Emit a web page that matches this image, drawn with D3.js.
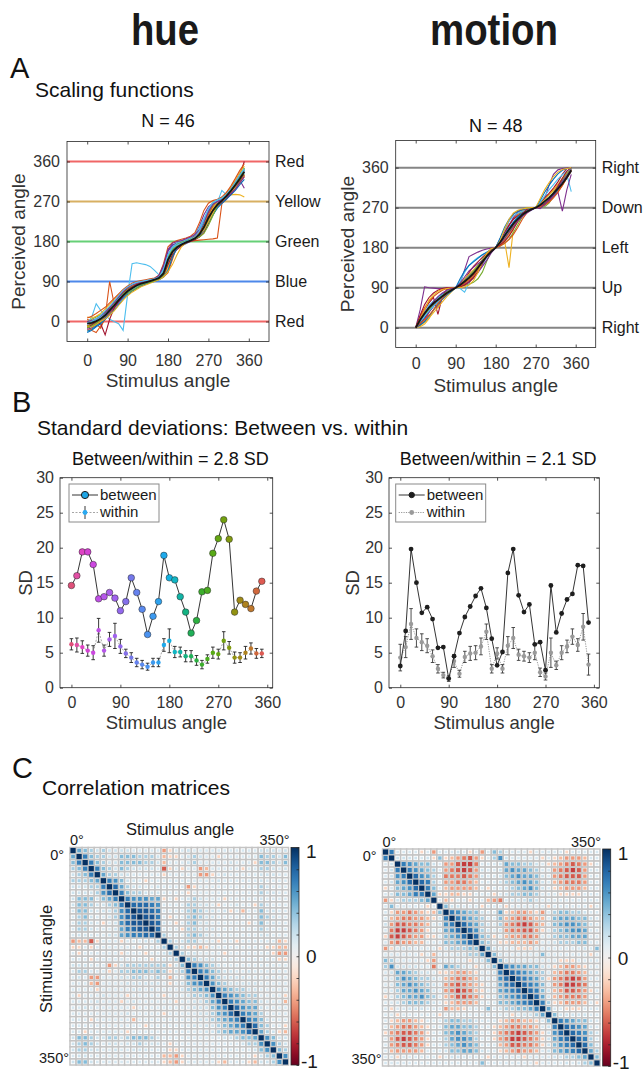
<!DOCTYPE html>
<html>
<head>
<meta charset="utf-8">
<title>hue / motion</title>
<script src="https://cdn.jsdelivr.net/npm/d3@7/dist/d3.min.js"></script>
<style>
  body { margin: 0; background: #fff; }
  svg { display: block; font-family: "Liberation Sans", Arial, Helvetica, sans-serif; }
  .ax text { font-size: 16px; fill: #333; font-family: "Liberation Sans", Arial, Helvetica, sans-serif; }
  .ax line { stroke: #262626; stroke-width: 0.8; }
</style>
</head>
<body>
<svg id="fig" width="644" height="1072"></svg>
<script>
// ---------- data ----------
var stimAngles = [0,10,20,30,40,50,60,70,80,90,100,110,120,130,140,150,160,170,
                  180,190,200,210,220,230,240,250,260,270,280,290,300,310,320,330,340,350];
var angleTicks = [0, 90, 180, 270, 360];
var sdTicks = [0, 5, 10, 15, 20, 25, 30];

var refAngles = [360, 270, 180, 90, 0];
var hueRefNames = ["Red", "Yellow", "Green", "Blue", "Red"];
var motionRefNames = ["Right", "Down", "Left", "Up", "Right"];

// A: scaling functions (perceived angle per stimulus angle)
var hueMean = [-5,-3,1,6,14,25,36,48,59,68,75,81,85,88,91,94,98,108,139,157,167,173,178,182,187,196,212,233,250,263,272,282,294,307,321,337];
var hueSubjects = [
  [-12,-8,-2,5,15,28,40,52,62,70,76,80,84,88,90,93,100,125,160,172,176,179,181,184,190,200,220,245,262,270,275,285,298,312,326,340],
  [5,0,-5,-15,10,90,40,45,60,75,78,82,86,88,92,96,100,105,130,150,165,172,177,180,182,183,184,185,186,188,265,275,288,300,312,328],
  [-20,-15,-8,0,10,20,32,45,58,68,75,80,84,87,90,93,96,102,120,150,165,172,178,182,186,192,205,225,250,268,278,282,285,286,285,280],
  [-15,-10,-5,5,18,30,42,55,65,72,78,83,87,90,92,95,100,112,150,168,175,180,183,186,192,205,225,245,258,266,272,280,292,305,318,300],
  [0,5,10,15,22,30,38,50,62,72,80,85,88,90,92,95,98,104,132,155,168,175,180,183,188,196,215,240,262,272,276,282,292,305,322,345],
  [-5,10,40,25,15,5,0,-5,-20,60,130,132,130,128,124,115,105,110,135,155,165,170,175,180,186,195,212,235,250,268,295,285,292,305,320,335],
  [-10,-5,-2,8,20,32,44,56,66,73,78,82,86,90,94,97,101,110,145,165,172,177,181,185,190,198,215,235,250,262,270,285,300,315,330,360],
  [-22,-18,-10,-2,8,20,30,42,54,64,72,78,82,86,90,94,98,106,136,160,170,176,180,185,190,198,210,228,248,262,272,282,296,310,326,342],
  [-8,-20,-25,-10,5,18,30,45,58,66,70,75,80,84,88,92,96,100,110,140,170,178,183,187,192,200,215,240,258,270,280,290,300,310,318,325],
  [10,8,12,18,28,38,50,60,70,76,80,84,88,90,92,95,97,100,125,155,170,176,180,184,188,195,208,230,255,270,278,288,302,318,335,350],
  [-18,-14,-6,2,12,22,32,44,56,66,74,80,85,88,90,92,98,118,158,172,176,179,183,186,195,215,240,258,266,270,274,282,295,310,326,338],
  [-12,-6,0,8,18,28,38,50,62,72,78,82,85,88,90,94,100,112,146,165,175,180,182,186,190,196,210,230,248,262,270,280,290,305,318,332],
  [-6,-2,4,10,18,28,40,52,60,66,72,78,84,88,92,96,102,118,150,168,176,180,184,188,196,212,232,252,266,272,276,284,296,310,324,340],
  [-15,-8,0,-5,-30,5,30,46,58,70,78,84,88,90,92,94,96,104,128,150,162,170,176,180,184,190,200,220,240,258,268,276,286,300,314,330],
  [-25,-20,-12,-5,5,15,25,38,50,60,68,74,80,84,88,90,94,100,115,145,165,175,180,184,188,194,205,222,240,255,266,275,285,295,308,320],
  [8,12,18,25,32,42,52,62,72,80,86,90,92,94,96,98,104,130,168,178,182,185,188,192,200,222,250,266,272,275,280,290,305,322,340,355],
  [-10,-12,-6,0,6,14,24,36,48,58,66,72,78,82,86,90,94,100,112,128,150,168,178,184,190,196,206,224,244,262,272,280,290,300,312,328],
  [0,2,6,12,20,30,42,56,68,76,82,86,88,90,92,96,104,126,162,176,180,182,186,190,196,206,226,248,264,270,274,280,288,298,312,326],
  [-14,-10,-4,4,14,26,38,50,58,64,70,76,82,86,88,92,96,104,140,162,172,178,180,182,186,190,198,216,238,260,272,284,296,310,324,346],
  [-4,0,6,14,24,34,46,58,70,78,84,88,90,92,94,96,100,116,150,166,172,176,180,184,190,204,228,254,268,274,278,286,298,314,330,344]
];
var motionMean = [0,18,32,45,55,63,71,78,84,90,96,104,112,122,135,148,161,171,180,192,207,221,234,245,254,261,266,270,276,284,292,302,313,324,338,354];
var motionSubjects = [
  [0,12,30,48,60,68,76,82,86,90,95,102,112,124,138,150,162,172,180,190,205,220,235,248,256,262,266,270,274,282,290,300,312,326,340,352],
  [0,5,15,35,60,45,70,80,86,90,98,106,115,125,138,150,165,174,180,195,215,232,245,255,262,266,268,270,278,290,300,310,322,334,345,358],
  [0,2,8,20,40,55,68,78,86,90,94,100,108,118,130,145,160,172,180,190,195,135,225,245,258,265,268,270,275,282,292,305,318,330,342,355],
  [0,40,92,90,89,88,88,89,90,90,100,130,160,165,170,174,177,179,180,190,210,230,248,260,265,268,270,270,275,290,320,345,355,358,359,360],
  [0,15,28,40,52,62,72,80,86,90,92,95,98,102,110,125,150,172,180,188,200,215,232,250,265,270,270,270,270,272,280,295,310,325,342,356],
  [0,20,36,50,60,68,74,80,85,90,88,80,100,118,132,142,158,170,180,194,210,224,236,246,254,260,264,270,278,286,294,304,316,328,345,306],
  [0,22,40,56,68,30,70,86,88,90,96,108,124,138,148,158,168,176,180,196,214,230,244,252,258,262,266,270,280,292,302,314,328,345,358,360],
  [0,10,22,36,48,58,68,76,84,90,98,108,118,128,140,152,164,174,180,192,208,224,238,250,258,264,268,270,274,280,288,298,310,322,336,352],
  [0,25,45,60,70,78,84,88,90,90,92,96,104,116,132,150,166,176,180,186,196,210,226,242,256,264,268,270,272,276,284,294,306,320,336,352],
  [0,5,12,22,34,46,58,70,80,90,100,110,120,130,140,152,164,174,180,188,198,210,224,238,250,260,266,270,278,288,298,310,322,336,350,356],
  [0,8,20,35,48,58,66,75,82,90,94,98,104,112,124,138,152,168,180,200,220,240,256,262,266,268,270,270,272,278,286,296,305,262,310,345],
  [0,16,30,42,54,64,72,80,86,90,96,104,114,126,140,154,166,176,180,184,190,200,214,232,250,264,270,270,271,278,290,304,318,332,346,358],
  [0,14,26,38,48,58,66,74,82,90,104,124,140,150,158,164,170,176,180,198,220,240,252,258,262,264,266,270,282,296,310,322,334,344,352,358],
  [0,28,52,68,78,84,88,90,90,90,92,96,102,112,126,144,162,174,180,186,194,206,222,240,256,266,270,270,272,278,288,302,318,336,352,360],
  [0,6,14,26,40,52,64,74,82,90,110,128,140,148,156,164,170,176,180,202,226,244,256,262,266,268,269,270,286,304,320,334,346,354,358,360],
  [0,10,18,28,40,54,66,76,84,90,94,100,108,120,134,150,164,174,180,184,190,198,210,226,244,258,266,270,272,276,282,292,304,320,338,354],
  [0,20,40,62,74,82,86,88,89,90,90,92,96,106,124,148,168,178,180,196,222,244,258,264,267,269,270,270,290,310,326,340,350,356,358,360],
  [0,16,34,46,58,70,78,84,88,90,100,114,128,136,144,150,160,170,180,190,200,214,228,240,250,258,264,270,268,276,290,300,315,330,342,356]
];

// B: standard deviations
var hueBetween = [14.6,16.0,19.4,19.4,17.6,12.7,13.0,13.6,12.8,11.0,12.3,15.7,13.6,11.2,7.6,10.2,12.3,18.9,15.7,15.4,13.0,10.8,7.8,9.6,13.7,13.9,19.2,21.3,24.0,21.2,10.8,12.5,11.9,11.3,13.8,15.2];
var hueWithin = [6.2,6.1,5.8,5.3,5.0,8.2,5.3,6.9,7.4,5.9,4.9,4.3,3.6,3.3,3.0,3.6,3.6,6.1,6.7,5.1,5.1,4.5,4.5,3.9,3.3,4.1,5.0,4.8,6.7,5.7,4.3,4.3,5.0,5.6,4.9,4.9];
var hueWithinErr = [0.8,1.0,0.9,0.8,1.0,1.7,0.8,1.0,1.8,1.0,0.6,0.7,0.6,0.6,0.5,0.6,0.6,0.9,1.7,0.8,0.7,0.8,0.8,0.7,0.6,0.6,0.8,0.7,1.3,0.9,0.8,0.7,0.9,0.8,0.7,0.6];
var hueDotColors = ["#e0507a","#e24fa4","#df42c4","#d442d4","#cc48e0","#c04fe6","#b656ea","#aa5eec","#a062ee","#9368ee",
                    "#8470ea","#7478ea","#6682ee","#5a8aee","#4a92f0","#3c9af0","#2ea2ee","#1eaaec","#12b2e2","#12b6c4",
                    "#12b4a6","#14b282","#20b058","#2cb040","#3cae2c","#4cac20","#58aa16","#64a612","#72a010","#829a10",
                    "#929212","#a08a16","#ae821e","#c0782c","#d0683c","#de5a52"];
var motionBetween = [3.1,8.1,19.8,15.0,10.7,11.5,9.8,5.7,5.8,1.3,4.5,7.8,10.1,11.6,13.1,14.2,11.4,7.0,3.2,5.1,16.4,19.8,13.2,10.8,11.9,6.2,6.5,2.5,14.6,7.9,10.6,12.6,13.4,17.5,17.4,9.3];
var motionWithin = [4.3,5.8,9.1,7.1,6.5,6.0,4.5,2.7,1.8,1.3,3.8,2.0,4.4,4.9,5.0,5.9,8.0,2.7,4.9,2.7,6.0,7.1,4.7,4.5,4.3,5.0,2.2,1.6,5.0,3.2,5.0,5.9,7.3,6.1,8.7,3.3];
var motionWithinErr = [1.9,1.5,2.2,1.3,1.2,1.0,0.9,0.6,0.4,0.4,0.9,0.5,0.8,1.0,1.0,1.2,1.1,0.6,0.8,0.6,1.3,1.5,0.8,0.7,0.7,1.0,0.6,0.5,2.1,0.6,1.0,0.9,1.1,0.9,1.9,1.5];

// C: correlation matrices, lower triangle, one char per cell
// X = 1, '0'..'9' = 0..0.9, 'a'..'i' = -0.1..-0.9
var hueCorrRows = [
  "X","4X","36X","236X","1236X","22234X","111226X","1111257X","13331346X","133211236X",
  "0331011257X","02310012578X","02210a015788X","0221000146788X","01100011456677X",
  "cbbea000a000102X","aa0a0000000a0002X","0a000000a000a0012X","000a000000000a0112X",
  "111000ca12222222a13X","022000a022333232a126X","010cc00011221120b0156X","000bc00001111110a01356X",
  "0000a000001101000012345X","0a0001000a00000a00012235X","00001000a01000000a0011246X",
  "0010000000a000000000111356X","000000000100000a00000112457X","000a000000b00000000001123456X",
  "000000000000a0000000101123456X","00a000000a00000000000011234457X","1332112212333210000000000112334X",
  "1232101101121110a000000000001225X","1221100100111000aa000000000000135X",
  "011000000000000bbca00000000000a123X","133100000000000abca00000ab000ab1125X"
];
var motionCorrRows = [
  "X","6X","01X","016X","0156X","01457X","a03457X","0133466X","ca122234X","0300000a0X",
  "0accdcbab3X","0bcddccba16X","1ceeddcb0156X","0dffedca00457X","aefedccaa03457X",
  "0cdccbb00033457X","ca0110000a122233X","000000a0b00011224X","3200000ac00000a013X",
  "25111100d043210a013X","014432110aabccba0016X","0035432210bcddcb00057X","0034543210cdedcba00467X",
  "0024454310cdfedba004567X","a023445320bceedca0034567X","0012333210abcccb000334567X",
  "0a00111000cbba000301223346X","00a000000a00000000000a01124X","0abccba000233221000abccbba03X",
  "0bcddcba0034433200abcddccb016X","acdeedca0034543200acdefedca157X","0cefedca0024554200acdffedca1467X",
  "0cdeedca00234543000bceeddca13567X","0bccccb000133443100abcdccb0134567X",
  "00a000000a0110000a00000a0000112234X","0000000000000000300000000a000010123X"
];
var colorbarTicks = [-1,-0.8,-0.6,-0.4,-0.2,0,0.2,0.4,0.6,0.8,1];

// ---------- styles ----------
var matlabColors = ["#0072BD","#D95319","#EDB120","#7E2F8E","#77AC30","#4DBEEE","#A2142F"];
var hueRefColors = ["#f06666","#d8b062","#66d077","#4d88ea","#f06666"];
var motionRefColors = ["#858585","#858585","#858585","#858585","#858585"];

var svg = d3.select("#fig");
var defs = svg.append("defs");

function label(g, x, y, s, size, anchor) {
  return g.append("text").attr("x", x).attr("y", y).attr("font-size", size)
    .attr("text-anchor", anchor || "start").attr("fill", "#262626").text(s);
}
function vlabel(g, cx, cy, s, size) {
  return g.append("text").attr("transform", "translate(" + (cx + 0.36 * size) + "," + cy + ") rotate(-90)")
    .attr("text-anchor", "middle").attr("font-size", size).attr("fill", "#333").text(s);
}

// matlab style box axes, ticks inside on all four sides
function drawAxes(g, x, y, xt, yt, padX, padY) {
  var x0 = x.range()[0], x1 = x.range()[1], yb = y.range()[0], ytop = y.range()[1];
  g.append("g").attr("class", "ax").attr("transform", "translate(0," + yb + ")")
    .call(d3.axisBottom(x).tickValues(xt).tickSizeInner(-3).tickSizeOuter(0).tickPadding(padX))
    .call(function(a) { a.select(".domain").remove(); });
  g.append("g").attr("class", "ax").attr("transform", "translate(0," + ytop + ")")
    .call(d3.axisTop(x).tickValues(xt).tickSizeInner(-3).tickSizeOuter(0).tickFormat(""))
    .call(function(a) { a.select(".domain").remove(); });
  g.append("g").attr("class", "ax").attr("transform", "translate(" + x0 + ",0)")
    .call(d3.axisLeft(y).tickValues(yt).tickSizeInner(-3).tickSizeOuter(0).tickPadding(padY))
    .call(function(a) { a.select(".domain").remove(); });
  g.append("g").attr("class", "ax").attr("transform", "translate(" + x1 + ",0)")
    .call(d3.axisRight(y).tickValues(yt).tickSizeInner(-3).tickSizeOuter(0).tickFormat(""))
    .call(function(a) { a.select(".domain").remove(); });
  g.append("rect").attr("x", x0).attr("y", ytop).attr("width", x1 - x0).attr("height", yb - ytop)
    .attr("fill", "none").attr("stroke", "#262626").attr("stroke-width", 0.8);
}

// ---------- titles ----------
label(svg, 165, 45, "hue", 44, "middle").attr("font-weight", "bold").attr("fill", "#1a1a1a")
  .attr("textLength", 68).attr("lengthAdjust", "spacingAndGlyphs");
label(svg, 494, 45, "motion", 44, "middle").attr("font-weight", "bold").attr("fill", "#1a1a1a")
  .attr("textLength", 128).attr("lengthAdjust", "spacingAndGlyphs");

label(svg, 10, 78, "A", 29).attr("fill", "#111");
label(svg, 35, 97, "Scaling functions", 21).attr("fill", "#111");
label(svg, 12, 412, "B", 29).attr("fill", "#111");
label(svg, 37, 435, "Standard deviations: Between vs. within", 21).attr("fill", "#111");
label(svg, 12, 778, "C", 29).attr("fill", "#111");
label(svg, 42, 795, "Correlation matrices", 21).attr("fill", "#111");

// ---------- A: scaling functions ----------
function scalingPanel(o) {
  var g = svg.append("g");
  var x = d3.scaleLinear().domain([-45, 405]).range(o.xRange);
  var y = d3.scaleLinear().domain(o.yDomain).range(o.yRange);
  defs.append("clipPath").attr("id", o.id).append("rect")
    .attr("x", o.xRange[0]).attr("y", o.yRange[1])
    .attr("width", o.xRange[1] - o.xRange[0]).attr("height", o.yRange[0] - o.yRange[1]);

  refAngles.forEach(function(a, i) {
    g.append("line").attr("x1", o.xRange[0]).attr("x2", o.xRange[1])
      .attr("y1", y(a)).attr("y2", y(a))
      .attr("stroke", o.refColors[i]).attr("stroke-width", 2);
  });

  var line = d3.line().x(function(d, i) { return x(stimAngles[i]); }).y(function(d) { return y(d); });
  var cg = g.append("g").attr("clip-path", "url(#" + o.id + ")");
  o.subjects.forEach(function(c, i) {
    cg.append("path").attr("d", line(c)).attr("fill", "none")
      .attr("stroke", matlabColors[i % matlabColors.length]).attr("stroke-width", 1.1);
  });
  cg.append("path").attr("d", line(o.mean)).attr("fill", "none")
    .attr("stroke", "#151515").attr("stroke-width", 1.8);

  drawAxes(g, x, y, angleTicks, angleTicks, o.padX, 7);

  o.refNames.forEach(function(n, i) {
    label(g, o.xRange[1] + 6, y(refAngles[i]) + 5.5, n, 16).attr("fill", "#1a1a1a");
  });
  var cx = (o.xRange[0] + o.xRange[1]) / 2;
  label(g, cx, o.titleY, o.title, 18, "middle").attr("fill", "#111");
  label(g, cx, o.xLabelY, "Stimulus angle", 19, "middle").attr("fill", "#333");
  vlabel(g, o.yLabelX, (o.yRange[0] + o.yRange[1]) / 2, "Perceived angle", 19);
}

scalingPanel({ id: "clipA1", xRange: [67, 269], yDomain: [-45, 405], yRange: [341.5, 141.5],
  refColors: hueRefColors, refNames: hueRefNames, subjects: hueSubjects, mean: hueMean,
  title: "N = 46", titleY: 127, xLabelY: 387, yLabelX: 18, padX: 13 });
scalingPanel({ id: "clipA2", xRange: [395.7, 595.7], yDomain: [-44.5, 421], yRange: [347.5, 140.5],
  refColors: motionRefColors, refNames: motionRefNames, subjects: motionSubjects, mean: motionMean,
  title: "N = 48", titleY: 132, xLabelY: 392, yLabelX: 347, padX: 10 });

// ---------- B: standard deviations ----------
function sdPanel(o) {
  var g = svg.append("g");
  var x = d3.scaleLinear().domain([-21, 370]).range(o.xRange);
  var y = d3.scaleLinear().domain([0, 30]).range([687.7, 477.7]);
  var line = d3.line().x(function(d, i) { return x(stimAngles[i]); }).y(function(d) { return y(d); });

  // within: line, error bars, markers
  g.append("path").attr("d", line(o.within)).attr("fill", "none")
    .attr("stroke", o.withinLine).attr("stroke-width", 0.9).attr("stroke-dasharray", o.withinDash);
  var eb = g.append("g").attr("stroke", o.errColor).attr("stroke-width", 0.9);
  o.within.forEach(function(v, i) {
    var xx = x(stimAngles[i]), lo = y(v - o.err[i]), hi = y(v + o.err[i]);
    eb.append("line").attr("x1", xx).attr("x2", xx).attr("y1", lo).attr("y2", hi);
    eb.append("line").attr("x1", xx - 1.8).attr("x2", xx + 1.8).attr("y1", lo).attr("y2", lo);
    eb.append("line").attr("x1", xx - 1.8).attr("x2", xx + 1.8).attr("y1", hi).attr("y2", hi);
  });
  g.selectAll(".wdot").data(o.within).enter().append("circle")
    .attr("cx", function(d, i) { return x(stimAngles[i]); }).attr("cy", function(d) { return y(d); })
    .attr("r", 2.2).attr("fill", function(d, i) { return o.withinColor(i); });

  // between: line and markers
  g.append("path").attr("d", line(o.between)).attr("fill", "none")
    .attr("stroke", "#1e1e1e").attr("stroke-width", 0.9);
  g.selectAll(".bdot").data(o.between).enter().append("circle")
    .attr("cx", function(d, i) { return x(stimAngles[i]); }).attr("cy", function(d) { return y(d); })
    .attr("r", o.betweenR).attr("fill", function(d, i) { return o.betweenColor(i); })
    .attr("stroke", "#2a2a2a").attr("stroke-width", o.betweenStroke);

  drawAxes(g, x, y, angleTicks, sdTicks, 9, 6);

  // legend
  var lx = o.xRange[0] + o.legendDx, ly = 484;
  g.append("rect").attr("x", lx).attr("y", ly).attr("width", 90).attr("height", 38)
    .attr("fill", "#fff").attr("stroke", "#8a8a8a").attr("stroke-width", 1);
  g.append("line").attr("x1", lx + 3).attr("x2", lx + 29).attr("y1", ly + 11).attr("y2", ly + 11)
    .attr("stroke", "#1e1e1e").attr("stroke-width", 0.9);
  g.append("circle").attr("cx", lx + 16).attr("cy", ly + 11).attr("r", o.betweenR + 0.3)
    .attr("fill", o.legendBetween).attr("stroke", "#1e1e1e").attr("stroke-width", 1);
  g.append("line").attr("x1", lx + 3).attr("x2", lx + 29).attr("y1", ly + 28.5).attr("y2", ly + 28.5)
    .attr("stroke", o.withinLine).attr("stroke-width", 0.9).attr("stroke-dasharray", o.withinDash);
  if (o.legendErr) {
    g.append("line").attr("x1", lx + 16).attr("x2", lx + 16).attr("y1", ly + 22).attr("y2", ly + 35)
      .attr("stroke", "#222").attr("stroke-width", 0.9);
  }
  g.append("circle").attr("cx", lx + 16).attr("cy", ly + 28.5).attr("r", 2.4).attr("fill", o.legendWithin);
  label(g, lx + 31, ly + 15.5, "between", 15).attr("fill", "#1a1a1a");
  label(g, lx + 31, ly + 33, "within", 15).attr("fill", "#1a1a1a");

  var cx = (o.xRange[0] + o.xRange[1]) / 2;
  label(g, cx + 4, 465, o.title, 18, "middle").attr("fill", "#111");
  label(g, cx, 729, "Stimulus angle", 18.5, "middle").attr("fill", "#333");
  vlabel(g, o.yLabelX, 583, "SD", 18.5);
}

sdPanel({ xRange: [60, 272.7], between: hueBetween, within: hueWithin, err: hueWithinErr,
  betweenColor: function(i) { return hueDotColors[i]; }, withinColor: function(i) { return hueDotColors[i]; },
  betweenR: 3.3, betweenStroke: 0.5, withinLine: "#9c9c9c", withinDash: "2,1.5", errColor: "#222",
  legendDx: 9, legendBetween: "#1fa6e6", legendWithin: "#2aaaf2", legendErr: true,
  title: "Between/within = 2.8 SD", yLabelX: 25 });
sdPanel({ xRange: [389, 599.3], between: motionBetween, within: motionWithin, err: motionWithinErr,
  betweenColor: function() { return "#1e1e1e"; }, withinColor: function() { return "#9a9a9a"; },
  betweenR: 2.4, betweenStroke: 0, withinLine: "#8a8a8a", withinDash: "1.2,1.2", errColor: "#3a3a3a",
  legendDx: 6.7, legendBetween: "#1e1e1e", legendWithin: "#9a9a9a", legendErr: false,
  title: "Between/within = 2.1 SD", yLabelX: 352 });

// ---------- C: correlation matrices ----------
function corrValue(ch) {
  if (ch === "X") return 1;
  if (ch >= "0" && ch <= "9") return ch === "0" ? 0.07 : (+ch) / 10;
  return -(ch.charCodeAt(0) - 96) / 10;
}
function fullMatrix(rows) {
  var n = rows.length, m = [];
  for (var i = 0; i < n; i++) m.push(new Array(n).fill(0.07));
  rows.forEach(function(row, i) {
    for (var j = 0; j <= i; j++) {
      var v = corrValue(row.charAt(j) || "0");
      m[i][j] = v; m[j][i] = v;
    }
  });
  return m;
}

var corrColor = d3.scaleSequential(d3.interpolateRdBu).domain([-1, 1]);
// display emphasis: corrplot-like markers look stronger than linear
var emph = d3.scalePow().exponent(0.7).domain([0, 1]).range([0, 1]);
function shown(v) { return v < 0 ? -emph(-v) : emph(v); }

var gradient = defs.append("linearGradient").attr("id", "cbgrad")
  .attr("x1", 0).attr("x2", 0).attr("y1", 0).attr("y2", 1);
d3.range(0, 1.0001, 0.05).forEach(function(t) {
  gradient.append("stop").attr("offset", t).attr("stop-color", corrColor(1 - 2 * t));
});

function corrPanel(o) {
  var g = svg.append("g");
  var m = fullMatrix(o.rows), n = m.length;
  var xb = d3.scaleBand().domain(d3.range(n)).range(o.xRange);
  var yb = d3.scaleBand().domain(d3.range(n)).range(o.yRange);
  var size = d3.scaleLinear().domain([0, 1]).range([0.36, 0.86]);
  var cells = [];
  m.forEach(function(row, i) { row.forEach(function(v, j) { cells.push({ i: i, j: j, v: v }); }); });

  g.selectAll(".cell").data(cells).enter().append("rect")
    .attr("x", function(d) { return xb(d.j); }).attr("y", function(d) { return yb(d.i); })
    .attr("width", xb.bandwidth()).attr("height", yb.bandwidth())
    .attr("fill", "#fff").attr("stroke", "#c4c4c4").attr("stroke-width", 1.5);
  g.selectAll(".mark").data(cells).enter().append("rect")
    .attr("x", function(d) { return xb(d.j) + xb.bandwidth() * (1 - size(Math.abs(shown(d.v)))) / 2; })
    .attr("y", function(d) { return yb(d.i) + yb.bandwidth() * (1 - size(Math.abs(shown(d.v)))) / 2; })
    .attr("width", function(d) { return xb.bandwidth() * size(Math.abs(shown(d.v))); })
    .attr("height", function(d) { return yb.bandwidth() * size(Math.abs(shown(d.v))); })
    .attr("fill", function(d) { return corrColor(shown(d.v)); });

  // colorbar
  var cbx = o.cbX, cbw = 8;
  var cby = d3.scaleLinear().domain([-1, 1]).range([o.yRange[1], o.yRange[0]]);
  g.append("rect").attr("x", cbx).attr("y", o.yRange[0]).attr("width", cbw)
    .attr("height", o.yRange[1] - o.yRange[0]).attr("fill", "url(#cbgrad)");
  g.append("g").attr("class", "ax").attr("transform", "translate(" + (cbx + cbw) + ",0)")
    .call(d3.axisRight(cby).tickValues(colorbarTicks).tickSizeInner(-2.5).tickSizeOuter(0).tickFormat(""))
    .call(function(a) { a.select(".domain").remove(); });
  g.append("rect").attr("x", cbx).attr("y", o.yRange[0]).attr("width", cbw)
    .attr("height", o.yRange[1] - o.yRange[0]).attr("fill", "none").attr("stroke", "#262626").attr("stroke-width", 0.8);
  label(g, cbx + cbw + 7, cby(1) + 10.5, "1", 19).attr("fill", "#1a1a1a");
  label(g, cbx + cbw + 7, cby(0) + 7, "0", 19).attr("fill", "#1a1a1a");
  label(g, cbx + cbw + 2, cby(-1) + 2.5, "-1", 19).attr("fill", "#1a1a1a");

  // angle labels
  label(g, o.xRange[0], o.yRange[0] - 2.5, "0°", 14.5).attr("fill", "#1a1a1a");
  label(g, o.xRange[1] + 1, o.yRange[0] - 2.5, "350°", 14.5, "end").attr("fill", "#1a1a1a");
  label(g, o.xRange[0] - 6, o.yRange[0] + 12, "0°", 14.5, "end").attr("fill", "#1a1a1a");
  label(g, o.xRange[0] - 1, o.yRange[1] - 2, "350°", 14.5, "end").attr("fill", "#1a1a1a");
  if (o.axisTitles) {
    label(g, 180, 835, "Stimulus angle", 16.5, "middle").attr("fill", "#1a1a1a");
    vlabel(g, 46.5, 959, "Stimulus angle", 16.5).attr("fill", "#1a1a1a");
  }
}

corrPanel({ rows: hueCorrRows, xRange: [70, 288.5], yRange: [847.5, 1065], cbX: 291, axisTitles: true });
corrPanel({ rows: motionCorrRows, xRange: [382.5, 600], yRange: [849, 1066], cbX: 602.7, axisTitles: false });
</script>
</body>
</html>
